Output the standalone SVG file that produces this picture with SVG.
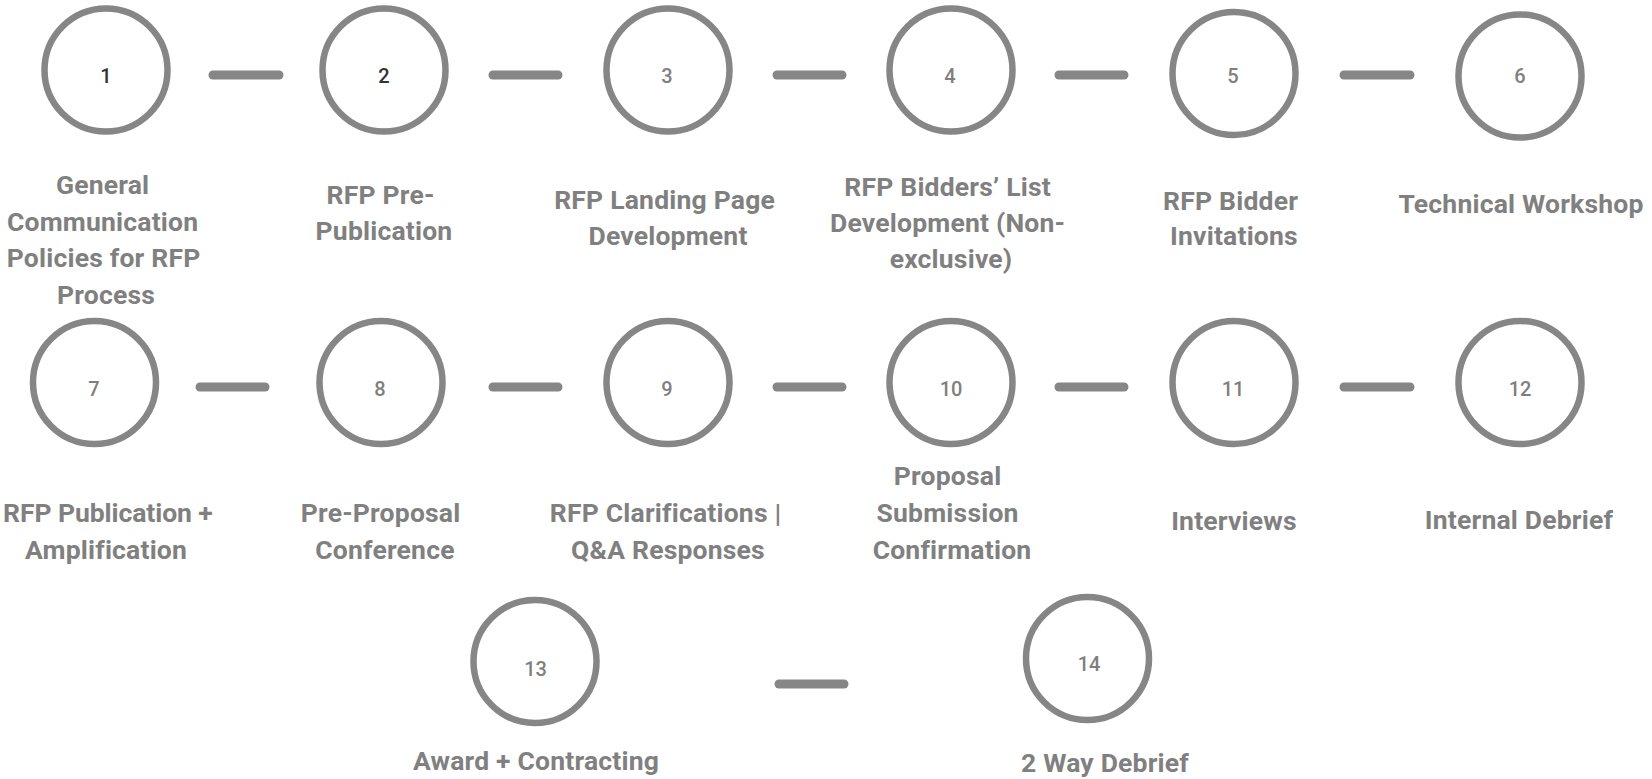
<svg xmlns="http://www.w3.org/2000/svg" width="1652" height="779" viewBox="0 0 1652 779">
  <style>
    .ring { fill: none; stroke: #868686; stroke-width: 6.5; }
    .link { stroke: #868686; stroke-width: 9; stroke-linecap: round; }
    .num { font-family: Roboto, "Liberation Sans", sans-serif; font-size: 20px; font-weight: 500; fill: #7f7f7f; text-anchor: middle; }
    .num.dark { fill: #333333; }
    .label { font-family: Roboto, "Liberation Sans", sans-serif; font-size: 26.5px; font-weight: 700; letter-spacing: 0.2px; fill: #808080; text-anchor: middle; }
  </style>
  <rect width="1652" height="779" fill="#ffffff"/>

  <!-- connectors between steps -->
  <g id="connectors">
    <line class="link" x1="213" y1="75" x2="279" y2="75"/>
    <line class="link" x1="493" y1="75" x2="558" y2="75"/>
    <line class="link" x1="777" y1="75" x2="842" y2="75"/>
    <line class="link" x1="1059" y1="75" x2="1124" y2="75"/>
    <line class="link" x1="1344" y1="75" x2="1410" y2="75"/>

    <line class="link" x1="200" y1="387" x2="265" y2="387"/>
    <line class="link" x1="493" y1="387" x2="558" y2="387"/>
    <line class="link" x1="777" y1="387" x2="842" y2="387"/>
    <line class="link" x1="1059" y1="387" x2="1124" y2="387"/>
    <line class="link" x1="1344" y1="387" x2="1410" y2="387"/>

    <line class="link" x1="779" y1="684" x2="844" y2="684"/>
  </g>

  <!-- row 1 -->
  <g id="step1">
    <circle class="ring" cx="106" cy="70" r="61.5"/>
    <text class="num dark" x="106" y="83">1</text>
    <text class="label" x="106">
      <tspan x="106" y="194">General</tspan>
      <tspan x="106" y="231">Communication</tspan>
      <tspan x="107" y="267">Policies for RFP</tspan>
      <tspan x="106" y="304">Process</tspan>
    </text>
  </g>
  <g id="step2">
    <circle class="ring" cx="384" cy="70" r="61.5"/>
    <text class="num dark" x="384" y="83">2</text>
    <text class="label">
      <tspan x="384" y="204">RFP Pre-</tspan>
      <tspan x="384" y="240">Publication</tspan>
    </text>
  </g>
  <g id="step3">
    <circle class="ring" cx="668" cy="70" r="61.5"/>
    <text class="num" x="667" y="83">3</text>
    <text class="label">
      <tspan x="668" y="209">RFP Landing Page</tspan>
      <tspan x="668" y="245">Development</tspan>
    </text>
  </g>
  <g id="step4">
    <circle class="ring" cx="951" cy="70" r="61.5"/>
    <text class="num" x="950" y="83">4</text>
    <text class="label">
      <tspan x="951" y="196">RFP Bidders’ List</tspan>
      <tspan x="951" y="232">Development (Non-</tspan>
      <tspan x="951" y="268">exclusive)</tspan>
    </text>
  </g>
  <g id="step5">
    <circle class="ring" cx="1234" cy="73.5" r="61.5"/>
    <text class="num" x="1233" y="83">5</text>
    <text class="label">
      <tspan x="1234" y="210">RFP Bidder</tspan>
      <tspan x="1234" y="245">Invitations</tspan>
    </text>
  </g>
  <g id="step6">
    <circle class="ring" cx="1520" cy="76" r="61.5"/>
    <text class="num" x="1520" y="83">6</text>
    <text class="label" x="1521" y="213">Technical Workshop</text>
  </g>

  <!-- row 2 -->
  <g id="step7">
    <circle class="ring" cx="94.5" cy="382.5" r="61.5"/>
    <text class="num" x="94" y="396">7</text>
    <text class="label" x="108" y="522" textLength="210" lengthAdjust="spacing">RFP Publication +</text>
    <text class="label" x="106" y="559">Amplification</text>
  </g>
  <g id="step8">
    <circle class="ring" cx="381" cy="382.5" r="61.5"/>
    <text class="num" x="380" y="396">8</text>
    <text class="label">
      <tspan x="384" y="522">Pre-Proposal</tspan>
      <tspan x="385" y="559">Conference</tspan>
    </text>
  </g>
  <g id="step9">
    <circle class="ring" cx="668" cy="382.5" r="61.5"/>
    <text class="num" x="667" y="396">9</text>
    <text class="label">
      <tspan x="669" y="522">RFP Clarifications |</tspan>
      <tspan x="668" y="559">Q&amp;A Responses</tspan>
    </text>
  </g>
  <g id="step10">
    <circle class="ring" cx="951" cy="382.5" r="61.5"/>
    <text class="num" x="951" y="396">10</text>
    <text class="label">
      <tspan x="951" y="485">Proposal</tspan>
      <tspan x="951" y="522">Submission</tspan>
      <tspan x="952" y="559">Confirmation</tspan>
    </text>
  </g>
  <g id="step11">
    <circle class="ring" cx="1234" cy="382.5" r="61.5"/>
    <text class="num" x="1233" y="396">11</text>
    <text class="label" x="1234" y="530">Interviews</text>
  </g>
  <g id="step12">
    <circle class="ring" cx="1520" cy="382.5" r="61.5"/>
    <text class="num" x="1520" y="396">12</text>
    <text class="label" x="1519" y="529">Internal Debrief</text>
  </g>

  <!-- row 3 -->
  <g id="step13">
    <circle class="ring" cx="535" cy="661.5" r="61.5"/>
    <text class="num" x="535.5" y="676">13</text>
    <text class="label" x="536" y="770">Award + Contracting</text>
  </g>
  <g id="step14">
    <circle class="ring" cx="1087.5" cy="658.5" r="61.5"/>
    <text class="num" x="1089" y="671">14</text>
    <text class="label" x="1105" y="772">2 Way Debrief</text>
  </g>
</svg>
